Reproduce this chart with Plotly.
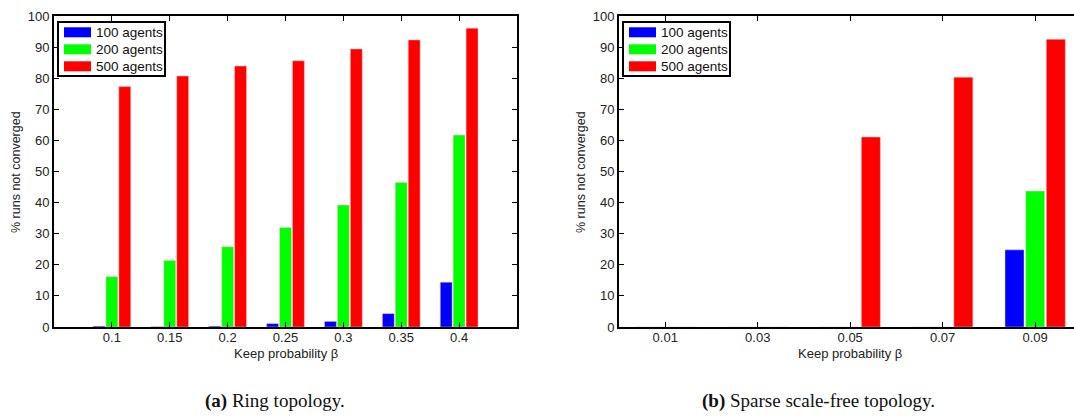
import plotly.graph_objects as go

W, H = 1074, 420

# --- data -------------------------------------------------------------------
series_names = ["100 agents", "200 agents", "500 agents"]
series_colors = ["#0000FF", "#00FF00", "#FF0000"]

ring_beta = ["0.1", "0.15", "0.2", "0.25", "0.3", "0.35", "0.4"]
ring_100 = [0.3, 0.1, 0.3, 1.1, 1.8, 4.3, 14.4]
ring_200 = [16.2, 21.4, 25.8, 32.0, 39.2, 46.5, 61.7]
ring_500 = [77.3, 80.7, 83.9, 85.6, 89.4, 92.3, 96.1]

sf_beta = ["0.01", "0.03", "0.05", "0.07", "0.09"]
sf_100 = [0, 0, 0, 0, 24.8]
sf_200 = [0, 0, 0, 0, 43.7]
sf_500 = [0, 0, 61.1, 80.3, 92.5]

y_ticks = list(range(0, 101, 10))
y_title = "% runs not converged"
x_title = "Keep probability \u03b2"
captions = [("(a)", "Ring topology."), ("(b)", "Sparse scale-free topology.")]


def px(x):
    return x / W


def py(y):
    return 1 - y / H


SANS = "Liberation Sans, Arial, sans-serif"
SERIF = "Liberation Serif, Times New Roman, serif"

fig = go.Figure()

panels = [
    ("x", "y", ring_beta, [ring_100, ring_200, ring_500]),
    ("x2", "y2", sf_beta, [sf_100, sf_200, sf_500]),
]
for xa, ya, cats, vals in panels:
    for name, color, v in zip(series_names, series_colors, vals):
        fig.add_trace(go.Bar(
            x=cats, y=v, name=name, xaxis=xa, yaxis=ya,
            marker=dict(color=color, line=dict(width=0.6, color="rgba(255,200,200,0.8)")),
            showlegend=False,
        ))

# plot-area geometry (pixels)
top, bottom = 16, 327
left_box = (54, 517)
right_box = (619, 1074)

axis_common = dict(
    showline=True, linecolor="black", linewidth=2,
    ticks="inside", ticklen=5, tickwidth=1, tickcolor="black",
    showgrid=False, zeroline=False,
    tickfont=dict(family=SANS, size=13, color="#222"),
)

fig.update_layout(
    width=W, height=H,
    margin=dict(l=0, r=0, t=0, b=0, autoexpand=False),
    paper_bgcolor="white", plot_bgcolor="white",
    barmode="group", bargap=0.33, bargroupgap=0.08,
    xaxis=dict(domain=[px(left_box[0]), px(left_box[1])], anchor="y",
               type="category", range=[-1, 7], mirror="ticks",
               ticklabelstandoff=-3, **axis_common),
    yaxis=dict(domain=[py(bottom), py(top)], anchor="x",
               range=[0, 100], tickvals=y_ticks, mirror="ticks", **axis_common),
    xaxis2=dict(domain=[px(right_box[0]), 1], anchor="y2",
                type="category", range=[-0.5, 4.42], mirror="ticks",
                ticklabelstandoff=-3, **axis_common),
    yaxis2=dict(domain=[py(bottom), py(top)], anchor="x2",
                range=[0, 100], tickvals=y_ticks, mirror=False, **axis_common),
)

annotations = []
shapes = []

# axis titles
for x_left, x_center in [(left_box[0], (left_box[0] + left_box[1]) / 2),
                         (right_box[0], 850)]:
    annotations.append(dict(
        x=px(x_left - 38), y=py(172), xref="paper", yref="paper",
        xanchor="center", yanchor="middle",
        text=y_title, textangle=-90, showarrow=False,
        font=dict(family=SANS, size=12.5, color="#222"),
    ))
    annotations.append(dict(
        x=px(x_center), y=py(353), xref="paper", yref="paper",
        xanchor="center", yanchor="middle",
        text=x_title, showarrow=False,
        font=dict(family=SANS, size=13, color="#222"),
    ))

# legends drawn as boxed swatches
for x0 in (left_box[0] + 4, right_box[0] + 4):
    shapes.append(dict(type="rect", xref="paper", yref="paper",
                       x0=px(x0), x1=px(x0 + 107), y0=py(76), y1=py(22),
                       line=dict(color="black", width=2), fillcolor="white"))
    for i, (name, color) in enumerate(zip(series_names, series_colors)):
        yc = 32.3 + 17 * i
        shapes.append(dict(type="rect", xref="paper", yref="paper",
                           x0=px(x0 + 6), x1=px(x0 + 33),
                           y0=py(yc + 5), y1=py(yc - 5),
                           line=dict(width=0), fillcolor=color))
        annotations.append(dict(
            x=px(x0 + 36), y=py(yc), xref="paper", yref="paper",
            xanchor="left", yanchor="middle", text=name, showarrow=False,
            font=dict(family=SANS, size=13.5, color="#111"),
        ))

# sub-figure captions
for (tag, text), xc in zip(captions, (275, 818)):
    annotations.append(dict(
        x=px(xc), y=py(401), xref="paper", yref="paper",
        xanchor="center", yanchor="middle",
        text=f"<b>{tag}</b> {text}", showarrow=False,
        font=dict(family=SERIF, size=19, color="#111"),
    ))

fig.update_layout(annotations=annotations, shapes=shapes)

fig.write_html("out.html")
